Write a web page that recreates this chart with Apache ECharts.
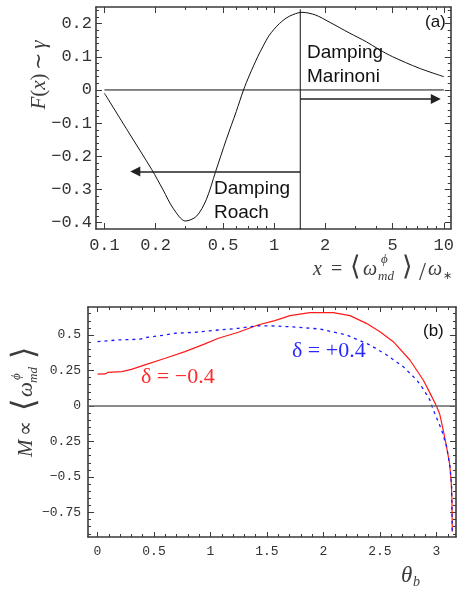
<!DOCTYPE html>
<html><head><meta charset="utf-8">
<script src="https://cdn.jsdelivr.net/npm/echarts@6/dist/echarts.min.js"></script>
<style>html,body{margin:0;padding:0;background:#fff}#c{width:457px;height:590px}</style>
</head><body><div id="c"></div>
<script>
// ---------- Panel (a): F(x) vs x (log scale) ----------
const xA = [0.1, 0.137, 0.19, 0.2215, 0.2535, 0.30, 0.348, 0.398, 0.452, 0.522, 0.598, 0.66, 0.716, 0.8, 0.857, 0.937, 1.074, 1.229, 1.46, 1.75, 2.11, 2.77, 3.5, 4.15, 5.0, 7.13, 10];
const FA = [-0.01, -0.123, -0.24, -0.301, -0.356, -0.395, -0.381, -0.331, -0.246, -0.15, -0.065, 0, 0.045, 0.1, 0.13, 0.165, 0.2, 0.222, 0.234, 0.226, 0.205, 0.172, 0.145, 0.122, 0.1, 0.066, 0.04];
const aXTickLabels = [0.1, 0.2, 0.5, 1, 2, 5, 10];
const aXMinorTicks = [0.3, 0.4, 0.6, 0.7, 0.8, 0.9, 3, 4, 6, 7, 8, 9];
const aYTickLabels = [-0.4, -0.3, -0.2, -0.1, 0, 0.1, 0.2];
const boundaryX = 1.426;
const boundaryY = [-0.42, 0.243];
const zeroLineA = [0.1, 10];
const roachArrow = {y: -0.246, from: 1.426, to: 0.152};
const marinoniArrow = {y: -0.027, from: 1.426, to: 8.97};

// ---------- Panel (b): M vs theta_b ----------
const thetaRed = [0, 0.07, 0.09, 0.214, 0.30, 0.42, 0.60, 0.774, 0.951, 1.07, 1.246, 1.42, 1.57, 1.704, 1.88, 2.087, 2.235, 2.38, 2.5, 2.618, 2.765, 2.883, 2.95, 3.0, 3.03, 3.06, 3.09, 3.115, 3.13, 3.137, 3.14];
const mRed = [0.225, 0.226, 0.236, 0.242, 0.258, 0.289, 0.336, 0.383, 0.437, 0.477, 0.519, 0.570, 0.601, 0.636, 0.657, 0.657, 0.636, 0.582, 0.523, 0.453, 0.324, 0.183, 0.08, 0.0, -0.06, -0.17, -0.29, -0.4, -0.52, -0.65, -0.885];
const thetaBlue = [0, 0.184, 0.376, 0.42, 0.6, 0.686, 0.863, 1.07, 1.246, 1.42, 1.57, 1.704, 1.969, 2.205, 2.41, 2.56, 2.706, 2.825, 2.883, 2.942, 2.972, 3.046, 3.09, 3.12, 3.134, 3.14];
const mBlue = [0.453, 0.465, 0.47, 0.481, 0.5, 0.512, 0.519, 0.535, 0.547, 0.565, 0.563, 0.558, 0.542, 0.5, 0.43, 0.359, 0.277, 0.183, 0.12, 0.042, -0.028, -0.169, -0.287, -0.427, -0.568, -0.885];
const bXTickLabels = [0, 0.5, 1, 1.5, 2, 2.5, 3];
const bYTickLabels = [-0.75, -0.5, -0.25, 0, 0.25, 0.5];
const bYTickTexts = ['\u22120.75', '\u22120.5', '0.25', '0', '0.25', '0.5'];

// ---------- build ----------
const L10 = v => Math.log10(v);
const FRAME = '#3a3a3a';
function range(a, b, step) { const r = []; for (let k = Math.round(a / step); k * step <= b + 1e-9; k++) r.push(+(k * step).toFixed(4)); return r; }
function ax(grid, pos, min, max, ticks, len, line, label) {
  return {
    type: 'value', gridIndex: grid, position: pos, min: min, max: max,
    splitLine: {show: false},
    axisLine: {show: !!line, onZero: false, lineStyle: {color: FRAME, width: 1.6}},
    axisTick: {show: true, inside: true, length: len, customValues: ticks, lineStyle: {color: FRAME, width: 1}},
    axisLabel: label ? Object.assign({show: true}, label) : {show: false}
  };
}
const monoA = {fontFamily: 'Liberation Mono', fontSize: 17, color: '#333'};
const monoB = {fontFamily: 'Liberation Mono', fontSize: 13, color: '#333'};

const aXmin = -1.0499, aXmax = 1.041, aYmin = -0.419, aYmax = 0.25;
const bXmin = -0.084, bXmax = 3.173, bYmin = -0.9225, bYmax = 0.697;

const aXMaj = aXTickLabels.map(L10), aXMin = aXMinorTicks.map(L10);
const aYMaj = aYTickLabels, aYMin = range(-0.4, 0.24, 0.02).filter(v => Math.abs(v * 10 - Math.round(v * 10)) > 1e-6);
const bXMaj = bXTickLabels, bXMin = range(0, 3.1, 0.1).filter(v => Math.abs(v * 2 - Math.round(v * 2)) > 1e-6);
const bYMaj = bYTickLabels, bYMin = range(-0.9, 0.65, 0.05).filter(v => Math.abs(v * 4 - Math.round(v * 4)) > 1e-6);

const xAxes = [
  ax(0, 'bottom', aXmin, aXmax, aXMaj, 6, true, Object.assign({customValues: aXMaj, margin: 8, formatter: v => String(parseFloat(Math.pow(10, v).toPrecision(3)))}, monoA)),
  ax(0, 'bottom', aXmin, aXmax, aXMin, 3, false),
  ax(0, 'top', aXmin, aXmax, aXMaj, 6, true),
  ax(0, 'top', aXmin, aXmax, aXMin, 3, false),
  ax(1, 'bottom', bXmin, bXmax, bXMaj, 5, true, Object.assign({customValues: bXMaj, margin: 8, formatter: v => String(v)}, monoB)),
  ax(1, 'bottom', bXmin, bXmax, bXMin, 3, false),
  ax(1, 'top', bXmin, bXmax, bXMaj, 5, true),
  ax(1, 'top', bXmin, bXmax, bXMin, 3, false)
];
const yAxes = [
  ax(0, 'left', aYmin, aYmax, aYMaj, 6, true, Object.assign({customValues: aYMaj, margin: 4, formatter: v => v === 0 ? '0' : (v < 0 ? '\u2212' : '') + Math.abs(v).toFixed(1)}, monoA)),
  ax(0, 'left', aYmin, aYmax, aYMin, 3, false),
  ax(0, 'right', aYmin, aYmax, aYMaj, 6, true),
  ax(0, 'right', aYmin, aYmax, aYMin, 3, false),
  ax(1, 'left', bYmin, bYmax, bYMaj, 6, true, Object.assign({customValues: bYMaj, margin: 7, formatter: v => bYTickTexts[bYTickLabels.indexOf(+v.toFixed(2))] ?? String(v)}, monoB)),
  ax(1, 'left', bYmin, bYmax, bYMin, 3, false),
  ax(1, 'right', bYmin, bYmax, bYMaj, 6, true),
  ax(1, 'right', bYmin, bYmax, bYMin, 3, false)
];

const series = [
  {type: 'line', xAxisIndex: 0, yAxisIndex: 0, data: zeroLineA.map(x => [L10(x), 0]), showSymbol: false, lineStyle: {color: '#111', width: 1},
    markLine: {silent: true, symbol: ['none', 'triangle'], symbolSize: 10, label: {show: false},
      lineStyle: {color: '#222', width: 1.6, type: 'solid'}, itemStyle: {color: '#111'},
      data: [
        [{coord: [L10(roachArrow.from), roachArrow.y]}, {coord: [L10(roachArrow.to), roachArrow.y]}],
        [{coord: [L10(marinoniArrow.from), marinoniArrow.y]}, {coord: [L10(marinoniArrow.to), marinoniArrow.y]}]
      ]}},
  {type: 'line', xAxisIndex: 0, yAxisIndex: 0, data: boundaryY.map(y => [L10(boundaryX), y]), showSymbol: false, lineStyle: {color: '#111', width: 1}},
  {type: 'line', xAxisIndex: 0, yAxisIndex: 0, data: xA.map((x, i) => [L10(x), FA[i]]), showSymbol: false, smooth: 0.3, lineStyle: {color: '#111', width: 1}},
  {type: 'line', xAxisIndex: 4, yAxisIndex: 4, data: thetaRed.map((x, i) => [x, mRed[i]]), showSymbol: false, lineStyle: {color: '#ff1a1a', width: 1.2},
    markLine: {silent: true, symbol: 'none', label: {show: false}, lineStyle: {color: '#666', width: 1.6, type: 'solid'}, data: [{yAxis: 0}]}},
  {type: 'line', xAxisIndex: 4, yAxisIndex: 4, data: thetaBlue.map((x, i) => [x, mBlue[i]]), showSymbol: false, lineStyle: {color: '#1a1aff', width: 1.3, type: [3, 4]}}
];

function T(x, base, text, size, o) {
  o = o || {};
  const fam = o.family || 'Liberation Serif';
  return {type: 'text', x: x, y: base - 0.32 * size, silent: true,
    style: {text: text, fill: o.color || '#3a3a3a', font: (o.italic ? 'italic ' : '') + (o.weight ? o.weight + ' ' : '') + size + 'px "' + fam + '"',
      textAlign: o.align || 'left', align: o.align || 'left', textVerticalAlign: 'middle', verticalAlign: 'middle', rich: o.rich}};
}
function M(x, mid, text, size, o) { const e = T(x, 0, text, size, o); e.y = mid; return e; }
const G = '#3c3c3c';
const BR = {color: G, family: 'DejaVu Sans', weight: 200};
const graphic = [
  // panel (a) x title
  T(313, 276, 'x', 20, {italic: true, color: G}),
  T(331, 276, '=', 20, {color: G}),
  M(350, 268, '\u27e8', 27, BR),
  T(363, 276, '\u03c9', 20, {italic: true, color: G}),
  T(381, 264, '\u03d5', 13, {italic: true, color: G}),
  T(378, 281, 'md', 13, {italic: true, color: G}),
  M(402, 268, '\u27e9', 27, BR),
  T(419, 281, '/', 25, {color: G}),
  T(428, 276, '\u03c9', 20, {italic: true, color: G}),
  T(443, 280, '\u2217', 11, {color: G}),
  // panel (a) y title
  {type: 'group', x: 46, y: 75, rotation: Math.PI / 2, silent: true, children: [
    {type: 'text', x: 0, y: -7, style: {text: '{i|F}{r|(}{i|x}{r|)} {r|\u223c} {i|\u03b3}', fill: G, textAlign: 'center', align: 'center', textVerticalAlign: 'middle', verticalAlign: 'middle',
      rich: {i: {fontFamily: 'Liberation Serif', fontStyle: 'italic', fontSize: 21, fill: G, color: G}, r: {fontFamily: 'Liberation Serif', fontSize: 21, fill: G, color: G}}}}
  ]},
  // panel (a) annotations
  T(425, 28, '(a)', 17, {family: 'Liberation Sans', color: '#111'}),
  T(307, 59, 'Damping', 19, {family: 'Liberation Sans', color: '#111'}),
  T(307, 83, 'Marinoni', 19, {family: 'Liberation Sans', color: '#111'}),
  T(214, 195, 'Damping', 19, {family: 'Liberation Sans', color: '#111'}),
  T(214, 219, 'Roach', 19, {family: 'Liberation Sans', color: '#111'}),
  // panel (b) y title
  {type: 'group', x: 33, y: 401, rotation: Math.PI / 2, silent: true, children: [
    T(-56, 0, 'M', 21, {italic: true, color: G}),
    T(-35, 0, '\u221d', 21, {color: G}),
    M(-10, -7, '\u27e8', 32, BR),
    T(4, 0, '\u03c9', 21, {italic: true, color: G}),
    T(21, -12, '\u03d5', 13, {italic: true, color: G}),
    T(18, 5, 'md', 13, {italic: true, color: G}),
    M(42, -7, '\u27e9', 32, BR)
  ]},
  // panel (b) annotations
  T(423, 337, '(b)', 17, {family: 'Liberation Sans', color: '#111'}),
  T(401, 583, '\u03b8', 23, {italic: true, color: G}),
  T(413, 587, 'b', 14, {italic: true, color: G}),
  T(141, 384, '\u03b4 = \u22120.4', 22, {color: '#ff2a2a'}),
  T(292, 358, '\u03b4 = +0.4', 22, {color: '#2a2aff'})
];

const chart = echarts.init(document.getElementById('c'), null, {renderer: 'canvas'});
chart.setOption({
  animation: false,
  backgroundColor: '#fff',
  grid: [
    {left: 96, top: 7, width: 356, height: 222, containLabel: false},
    {left: 88, top: 307, width: 368, height: 230, containLabel: false}
  ],
  xAxis: xAxes,
  yAxis: yAxes,
  series: series,
  graphic: graphic
});
</script>
</body></html>
